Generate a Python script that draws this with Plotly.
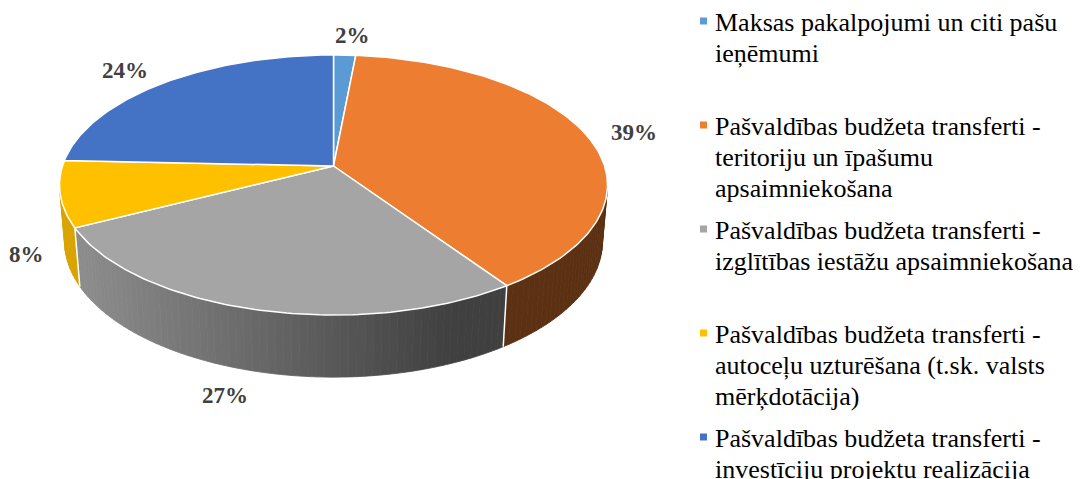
import math
import plotly.graph_objects as go

# ---------------- data ----------------
legend_lines = [
    ["Maksas pakalpojumi un citi pašu", "ieņēmumi"],
    ["Pašvaldības budžeta transferti -", "teritoriju un īpašumu", "apsaimniekošana"],
    ["Pašvaldības budžeta transferti -", "izglītības iestāžu apsaimniekošana"],
    ["Pašvaldības budžeta transferti -", "autoceļu uzturēšana (t.sk. valsts", "mērķdotācija)"],
    ["Pašvaldības budžeta transferti -", "investīciju projektu realizācija"],
]
categories = [" ".join(l) for l in legend_lines]
values = [1.5, 39.0, 27.0, 8.2, 24.3]

# ---------------- style ----------------
colors = ["#5b9bd5", "#ed7d31", "#a5a5a5", "#ffc000", "#4472c4"]
label_nudge = [(6, -4.5), (8, 2), (-16.5, -5), (6, -1), (-14.5, 0)]
W, H = 1085, 479
OFF = 8                        # default page margin of the html body
CX, CY = 333.5, 166.0          # projected pie centre (pixels)
FOC, DIST = 1640.0, 6.05       # perspective focal length / camera distance
PHI = math.radians(28)         # elevation
DEPTH = 0.238                  # pie thickness (radius units)
COS, SIN = math.cos(PHI), math.sin(PHI)
SERIF = "Liberation Serif, Times New Roman, serif"


def proj(theta, r=1.0, z=0.0):
    x = r * math.sin(theta)
    y = r * math.cos(theta)
    d = DIST + y * COS - z * SIN
    return CX + FOC * x / d, CY - FOC * (y * SIN + z * COS) / d


def hex2rgb(h):
    h = h.lstrip("#")
    return tuple(int(h[i:i + 2], 16) for i in (0, 2, 4))


def shade(col, k):
    r, g, b = hex2rgb(col)
    return "rgb(%d,%d,%d)" % (round(r * k), round(g * k), round(b * k))


total = sum(values)
bounds = [0.0]
for v in values:
    bounds.append(bounds[-1] + v / total * 2 * math.pi)

fig = go.Figure()

# ----- side walls (visible where outward normal faces the camera) -----
cos_lim = -1.0 / (DIST * COS)
th_r = math.acos(cos_lim)               # right silhouette
th_l = 2 * math.pi - th_r               # left silhouette
step = math.radians(1.5)
for i, col in enumerate(colors):
    a0 = max(bounds[i], th_r)
    a1 = min(bounds[i + 1], th_l)
    if a1 <= a0:
        continue
    n = max(1, int(math.ceil((a1 - a0) / step)))
    for j in range(n):
        ta = a0 + (a1 - a0) * j / n
        tb = a0 + (a1 - a0) * (j + 1) / n
        pts = [proj(ta), proj(tb), proj(tb, 1, -DEPTH), proj(ta, 1, -DEPTH)]
        xm = (pts[0][0] + pts[1][0]) / 2
        t = min(1.0, max(0.0, (xm - 80) / (450 - 80)))
        k = 0.85 + (0.39 - 0.85) * t
        c = shade(col, k)
        fig.add_trace(go.Scatter(
            x=[p[0] for p in pts] + [pts[0][0]],
            y=[p[1] for p in pts] + [pts[0][1]],
            mode="lines", fill="toself", fillcolor=c,
            line=dict(color=c, width=0.8), hoverinfo="skip", showlegend=False))

# white edges between slices on the side wall
for b in bounds[1:-1]:
    if th_r < b < th_l:
        p0, p1 = proj(b), proj(b, 1, -DEPTH)
        fig.add_trace(go.Scatter(x=[p0[0], p1[0]], y=[p0[1], p1[1]], mode="lines",
                                 line=dict(color="white", width=1.5),
                                 hoverinfo="skip", showlegend=False))

# ----- top faces -----
for i, col in enumerate(colors):
    a0, a1 = bounds[i], bounds[i + 1]
    n = max(2, int(math.ceil((a1 - a0) / math.radians(1))))
    xs, ys = [CX], [CY]
    for j in range(n + 1):
        px, py = proj(a0 + (a1 - a0) * j / n)
        xs.append(px)
        ys.append(py)
    xs.append(CX)
    ys.append(CY)
    fig.add_trace(go.Scatter(x=xs, y=ys, mode="lines", fill="toself", fillcolor=col,
                             line=dict(color="white", width=1.5),
                             name=categories[i], hoverinfo="name", showlegend=False))

# ----- data labels -----
annotations = []
for i, v in enumerate(values):
    mid = (bounds[i] + bounds[i + 1]) / 2
    z = -DEPTH if math.cos(mid) < 0 else 0.0
    lx, ly = proj(mid, 1.16, z)
    annotations.append(dict(x=lx + label_nudge[i][0], y=ly + label_nudge[i][1],
                            xref="x", yref="y", showarrow=False,
                            text="<b>" + f"{v / total * 100:.0f}%" + "</b>",
                            font=dict(family=SERIF, size=23, color="#404040"),
                            xanchor="center", yanchor="middle"))

# ----- legend -----
leg_x_sq, leg_x_txt = 703.5, 713
leg_y0, leg_step, line_h = 21, 104, 31
sq_x, sq_y = [], []
for i, lines in enumerate(legend_lines):
    y0 = leg_y0 + i * leg_step
    sq_x.append(leg_x_sq)
    sq_y.append(y0)
    for j, line in enumerate(lines):
        annotations.append(dict(x=leg_x_txt, y=y0 + 1 + j * line_h, xref="x", yref="y",
                                showarrow=False, text=line, xanchor="left", yanchor="middle",
                                font=dict(family=SERIF, size=26, color="#000000")))
fig.add_trace(go.Scatter(x=sq_x, y=sq_y, mode="markers",
                         marker=dict(symbol="square", size=7, color=colors,
                                     line=dict(width=0)),
                         hoverinfo="skip", showlegend=False))

fig.update_layout(
    width=W - OFF, height=H - OFF, margin=dict(l=0, r=0, t=0, b=0),
    paper_bgcolor="white", plot_bgcolor="white",
    xaxis=dict(range=[OFF, W], visible=False, fixedrange=True),
    yaxis=dict(range=[H, OFF], visible=False, fixedrange=True),
    annotations=annotations, showlegend=False,
)
fig.write_html("out.html")
